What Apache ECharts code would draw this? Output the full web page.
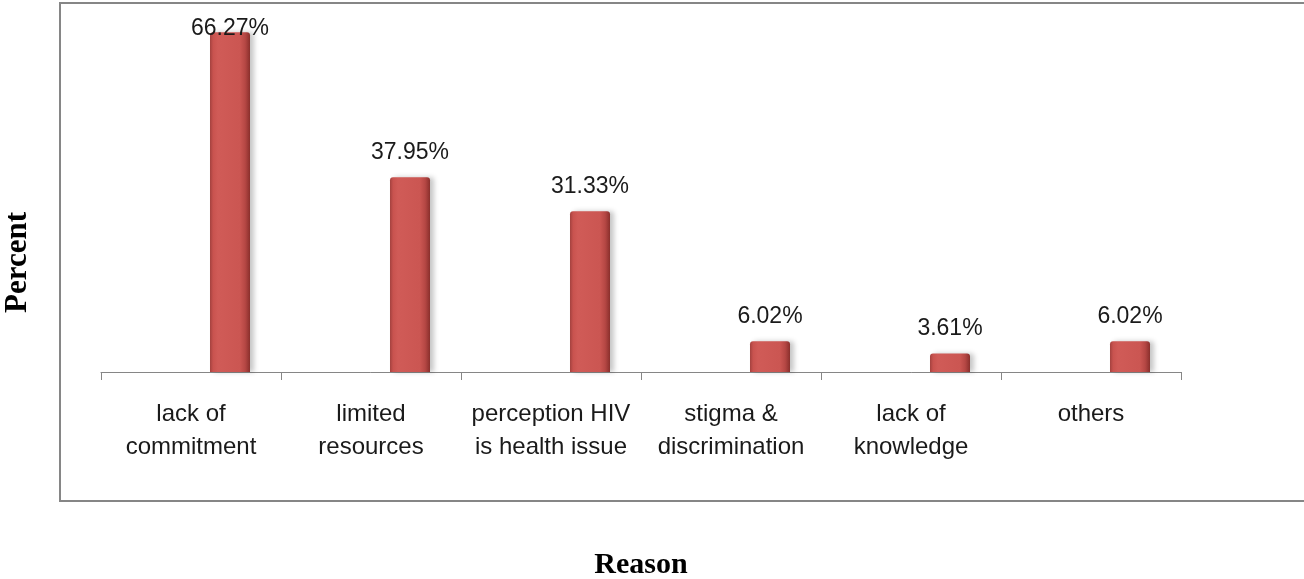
<!DOCTYPE html>
<html>
<head>
<meta charset="utf-8">
<script src="https://cdn.jsdelivr.net/npm/echarts@6/dist/echarts.min.js"></script>
<style>
  html, body { margin: 0; padding: 0; background: #fff; }
  #chart { width: 1304px; height: 579px; }
</style>
</head>
<body>
<div id="chart"></div>
<script>
// reasons and their share of respondents
const categories = ['lack of\ncommitment', 'limited\nresources', 'perception HIV\nis health issue',
    'stigma &\ndiscrimination', 'lack of\nknowledge', 'others'];
const percents = [66.27, 37.95, 31.33, 6.02, 3.61, 6.02];

var chart = echarts.init(document.getElementById('chart'));

// fake cylinder shading like the office 3D bars
var barColor = new echarts.graphic.LinearGradient(0, 0, 1, 0, [
    { offset: 0, color: '#a4423f' },
    { offset: 0.08, color: '#c9534f' },
    { offset: 0.2, color: '#d05b57' },
    { offset: 0.75, color: '#cb5652' },
    { offset: 0.88, color: '#b54744' },
    { offset: 1, color: '#8a2f2c' }
]);

var barData = percents.map((v, i) => {
    var item = { value: v };
    if (i === 0) {
        item.label = { distance: -8 }; // label sits on the bar top, as in the original
    }
    return item;
});

var option = {
    animation: false,
    graphic: [
        {
            type: 'rect',
            shape: { x: 60, y: 3, width: 1260, height: 498 },
            style: { fill: 'none', stroke: '#868686', lineWidth: 2 }
        }
    ],
    grid: {
        left: 101,
        right: 123,
        top: 13,
        bottom: 207,
        outerBoundsMode: 'none'
    },
    xAxis: {
        type: 'category',
        data: categories,
        name: 'Reason',
        nameLocation: 'middle',
        nameGap: 178,
        nameTextStyle: {
            fontFamily: 'Liberation Serif',
            fontWeight: 'bold',
            fontSize: 30,
            color: '#000'
        },
        axisLine: { lineStyle: { color: '#868686', width: 1 } },
        axisTick: { show: true, length: 8, interval: 0, lineStyle: { color: '#868686' } },
        axisLabel: {
            interval: 0,
            margin: 26,
            fontFamily: 'Liberation Sans',
            fontSize: 24,
            lineHeight: 33,
            color: '#1a1a1a',
            verticalAlign: 'top'
        }
    },
    yAxis: {
        type: 'value',
        min: 0,
        max: 70,
        name: 'Percent',
        nameLocation: 'middle',
        nameGap: 68,
        nameRotate: 90,
        nameTextStyle: {
            fontFamily: 'Liberation Serif',
            fontWeight: 'bold',
            fontSize: 31,
            color: '#000',
            padding: [0, 140, 0, 0]
        },
        axisLine: { show: false },
        axisTick: { show: false },
        axisLabel: { show: false },
        splitLine: { show: false }
    },
    series: [
        {
            name: '',
            type: 'bar',
            barWidth: 40,
            barGap: '95%',
            data: []
        },
        {
            name: 'Percent',
            type: 'bar',
            barWidth: 40,
            data: barData,
            itemStyle: {
                color: barColor,
                borderRadius: [3, 3, 0, 0],
                shadowColor: 'rgba(0,0,0,0.22)',
                shadowBlur: 5,
                shadowOffsetX: 4,
                shadowOffsetY: 0
            },
            label: {
                show: true,
                position: 'top',
                distance: 13,
                fontFamily: 'Liberation Sans',
                fontSize: 23,
                color: '#1a1a1a',
                formatter: p => p.value.toFixed(2) + '%'
            }
        }
    ]
};
chart.setOption(option);
</script>
</body>
</html>
